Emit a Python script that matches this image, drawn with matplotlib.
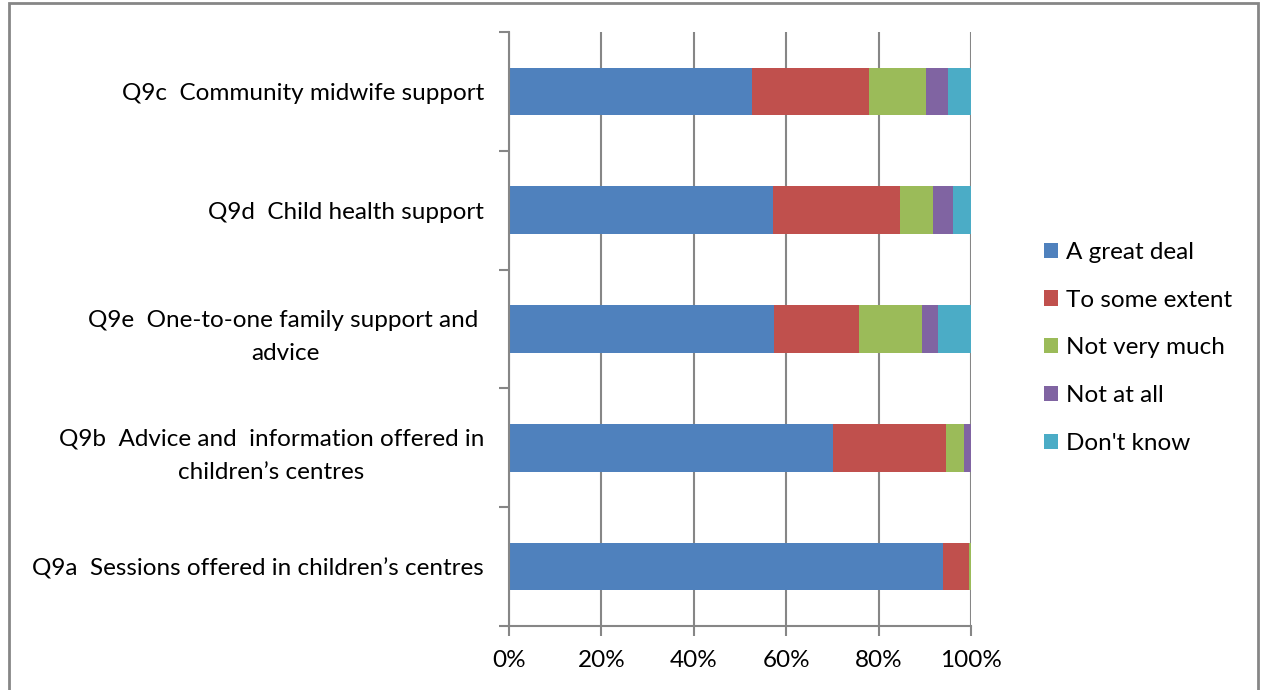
import matplotlib.pyplot as plt
from matplotlib.ticker import FixedLocator, PercentFormatter
from matplotlib.patches import Rectangle
import numpy as np

plt.rcParams['font.family'] = ['Lato', 'DejaVu Sans']

# bottom to top, as drawn
categories = [
    "Q9a  Sessions offered in children\u2019s centres",
    "Q9b  Advice and  information offered in\nchildren\u2019s centres",
    "Q9e  One-to-one family support and \nadvice",
    "Q9d  Child health support",
    "Q9c  Community midwife support",
]
series_names = ["A great deal", "To some extent", "Not very much", "Not at all", "Don't know"]
great_deal   = [94.0, 70.2, 57.4, 57.2, 52.5]
some_extent  = [5.6, 24.4, 18.4, 27.4, 25.5]
not_very     = [0.4, 3.9, 13.7, 7.2, 12.3]
not_at_all   = [0.0, 1.5, 3.4, 4.4, 4.8]
dont_know    = [0.0, 0.0, 7.1, 3.8, 4.9]
colors = ["#4f81bd", "#c0504d", "#9bbb59", "#8064a2", "#4bacc6"]

FS = 17.5
W, H = 1261, 690
fig = plt.figure(figsize=(W/100, H/100), dpi=100)
ax = fig.add_axes([509/W, 1 - 626/H, (971-509)/W, (626-32)/H])

y = np.arange(len(categories))
left = np.zeros(len(categories))
for name, vals, c in zip(series_names,
                         [great_deal, some_extent, not_very, not_at_all, dont_know],
                         colors):
    vals = np.array(vals)
    ax.barh(y, vals, left=left, height=0.40, color=c, label=name, zorder=3)
    left += vals

grid_col = "#868686"
ax.set_xlim(0, 100)
ax.set_ylim(-0.5, len(categories) - 0.5)
ax.xaxis.set_major_locator(FixedLocator([0, 20, 40, 60, 80, 100]))
ax.xaxis.set_major_formatter(PercentFormatter(decimals=0))
ax.grid(axis='x', color=grid_col, linewidth=1.5, zorder=0)

# category boundary ticks on y axis, labels at centres
ax.yaxis.set_major_locator(FixedLocator(np.arange(-0.5, len(categories), 1.0)))
ax.yaxis.set_major_formatter(plt.NullFormatter())
ax.yaxis.set_minor_locator(FixedLocator(y))
ax.set_yticklabels(categories, minor=True, multialignment='center', linespacing=1.7)
ax.tick_params(axis='y', which='minor', length=0, pad=18, labelsize=FS)
ax.tick_params(axis='y', which='major', length=7, width=1.5, color=grid_col)
ax.tick_params(axis='x', length=7, width=1.5, color=grid_col, labelsize=FS, pad=10)

for s in ['top', 'right']:
    ax.spines[s].set_visible(False)
for s in ['left', 'bottom']:
    ax.spines[s].set_color(grid_col)
    ax.spines[s].set_linewidth(1.5)
    ax.spines[s].set_zorder(4)

leg = fig.legend(loc='upper left', bbox_to_anchor=(1022/W, 1 - 220/H),
                 frameon=False, fontsize=FS, handlelength=0.6, handleheight=0.6,
                 handletextpad=0.3, labelspacing=1.1)

# outer chart border
fig.add_artist(Rectangle((9/W, -0.01), (1258-9)/W, 1.01 - 3/H, transform=fig.transFigure,
                         fill=False, edgecolor=grid_col, linewidth=2))

fig.savefig("out.png", dpi=100)
